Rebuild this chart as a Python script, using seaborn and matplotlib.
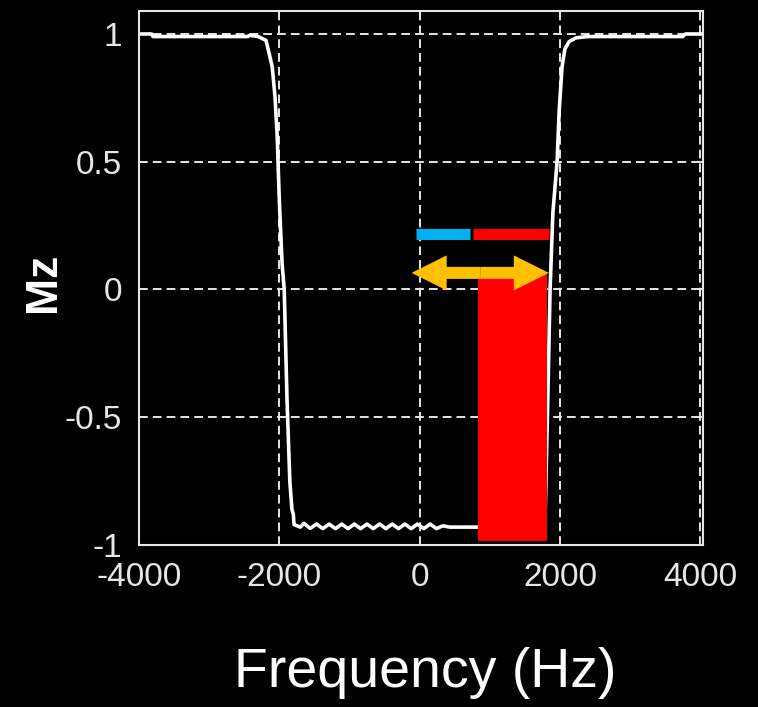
# Mz vs frequency profile, black background, matlab-ish look
import numpy as np
import pandas as pd
import matplotlib
matplotlib.use("Agg")
import matplotlib.pyplot as plt
from matplotlib.patches import FancyArrow
import seaborn as sns

# ---------------------------------
# Data
# ---------------------------------
freq = [-4000, -3820, -3800, -2450, -2420, -2300, -2190, -2150, -2100, -2060,
        -2030, -2000, -1960, -1930, -1890, -1850, -1820, -1800, -1790, -1700,
        -1650, -1560, -1470, -1380, -1290, -1200, -1110, -1020, -930, -840,
        -750, -660, -570, -480, -390, -300, -210, -120, -30, 60, 150, 240,
        330, 430, 1000, 1700, 1790, 1830, 1860, 1900, 1960, 1990, 2030, 2070,
        2130, 2230, 2400, 3750, 3790, 4040]
mz = [1.0, 1.0, 0.99, 0.99, 0.995, 0.99, 0.975, 0.93, 0.87, 0.75,
      0.6, 0.35, 0.1, 0.0, -0.43, -0.75, -0.86, -0.88, -0.92, -0.93,
      -0.915, -0.935, -0.918, -0.936, -0.918, -0.936, -0.918, -0.936, -0.918, -0.936,
      -0.918, -0.936, -0.918, -0.936, -0.918, -0.936, -0.918, -0.936, -0.918, -0.936,
      -0.918, -0.936, -0.925, -0.93, -0.93, -0.93, -0.88, -0.4, 0.0, 0.3, 0.5,
      0.7, 0.87, 0.94, 0.97, 0.985, 0.99, 0.99, 1.0, 1.0]

xticks = [-4000, -2000, 0, 2000, 4000]
xtick_labels = ["-4000", "-2000", "0", "2000", "4000"]
yticks = [-1, -0.5, 0, 0.5, 1]
ytick_labels = ["-1", "-0.5", "0", "0.5", "1"]

# band annotations
bar_f = [830, 1810]
bar_mz = [-0.985, 0.06]
blue_seg = [-57, 714]
red_seg = [757, 1843]
seg_mz = 0.219
arrow_f = [-114, 1843]
arrow_mz = 0.065

df = pd.DataFrame({"freq": freq, "mz": mz})

# ---------------------------------
# Style
# ---------------------------------
sns.set_theme(style="dark")
plt.rcParams["axes.unicode_minus"] = False
plt.rcParams["font.family"] = ["Liberation Sans", "DejaVu Sans"]

fg = "#e6e6e6"

fig = plt.figure(figsize=(7.58, 7.07), dpi=100, facecolor="black")
ax = fig.add_axes([139 / 758, 1 - 545 / 707, (703 - 139) / 758, (545 - 11) / 707])
ax.set_facecolor("black")

# curve
sns.lineplot(data=df, x="freq", y="mz", color="white", lw=2.6, ax=ax, zorder=2,
             sort=False)

# red block
ax.bar((bar_f[0] + bar_f[1]) / 2, bar_mz[1] - bar_mz[0], bottom=bar_mz[0],
       width=bar_f[1] - bar_f[0], color="#ff0000", lw=0, zorder=3)

# blue / red segments
ax.plot(blue_seg, [seg_mz, seg_mz], color="#00b0f0", lw=8, solid_capstyle="butt", zorder=4)
ax.plot(red_seg, [seg_mz, seg_mz], color="#ff0000", lw=8, solid_capstyle="butt", zorder=4)

# double headed arrow (two halves from the middle)
mid = (arrow_f[0] + arrow_f[1]) / 2
for end in arrow_f:
    ax.add_patch(FancyArrow(mid, arrow_mz, end - mid, 0, width=0.047,
                            head_width=0.137, head_length=500,
                            length_includes_head=True, color="#ffc000",
                            lw=0, zorder=5))

ax.set_xlim(-4000, 4040)
ax.set_ylim(-1, 1.09)
ax.set_xticks(xticks, xtick_labels)
ax.set_yticks(yticks, ytick_labels)
ax.set_xlabel("")
ax.set_ylabel("")

ax.grid(True, color=fg, lw=1.4, linestyle=(0, (4.5, 2.6)))
ax.tick_params(direction="in", length=4.5, width=1.4, color=fg, top=True, right=True,
               labelcolor=fg, labelsize=24)
ax.tick_params(axis="x", pad=12.5)
ax.tick_params(axis="y", pad=12)
for s in ax.spines.values():
    s.set_color(fg)
    s.set_linewidth(1.5)
    s.set_visible(True)

fig.text(0.561, 1 - 687 / 707, "Frequency (Hz)", color="white", fontsize=40,
         ha="center", va="baseline")
fig.text(44 / 758, 1 - 282 / 707, "Mz", color="white", fontsize=32, fontweight="bold",
         rotation=90, ha="center", va="center")

fig.savefig("out.png", dpi=100, facecolor="black")
